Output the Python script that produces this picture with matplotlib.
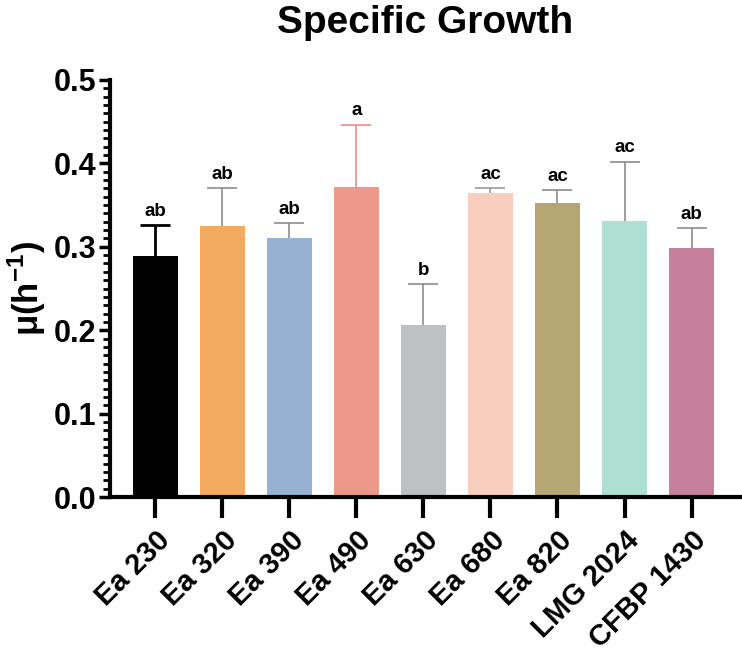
import numpy as np
import matplotlib
matplotlib.use('Agg')
import matplotlib.pyplot as plt
from matplotlib.ticker import MultipleLocator
#-------------------------------------------------------------------------------
strains = ['Ea 230', 'Ea 320', 'Ea 390', 'Ea 490', 'Ea 630',
           'Ea 680', 'Ea 820', 'LMG 2024', 'CFBP 1430']
mu      = [0.289, 0.325, 0.310, 0.372, 0.206, 0.364, 0.352, 0.331, 0.299]
err     = [0.037, 0.045, 0.018, 0.074, 0.049, 0.006, 0.016, 0.071, 0.023]
letters = ['ab', 'ab', 'ab', 'a', 'b', 'ac', 'ac', 'ac', 'ab']
colors  = ['#000000', '#F5AB5F', '#97B1D3', '#EE978B', '#BEC1C3',
           '#F9CEBF', '#B7A574', '#AEDFD3', '#C5809D']
ecolors = ['#000000', '#8C8C8C', '#8C8C8C', '#E99083', '#8C8C8C',
           '#9A9A9A', '#8C8C8C', '#8C8C8C', '#8C8C8C']
#-------------------------------------------------------------------------------
plt.rcParams['font.family'] = ['Liberation Sans', 'DejaVu Sans']
plt.rcParams['font.weight'] = 'bold'
plt.rcParams['mathtext.fontset'] = 'custom'
plt.rcParams['mathtext.rm'] = 'Liberation Sans:bold'
plt.rcParams['mathtext.bf'] = 'Liberation Sans:bold'

fig = plt.figure(figsize=(7.42, 6.55), dpi=100)
ax = fig.add_axes([0.148, 0.241, 0.849, 0.637])

x = np.arange(len(strains))
ax.bar(x, mu, width=0.67, color=colors, zorder=2)
for i in range(len(x)):
    lw = 2 if i == 0 else 1.2
    eb = ax.errorbar(x[i], mu[i], yerr=[[0], [err[i]]], fmt='none',
                     ecolor=ecolors[i], elinewidth=lw, capsize=11,
                     capthick=lw, zorder=3)
    eb[1][0].set_visible(False)   # no lower cap
    ax.annotate(letters[i], (x[i], mu[i] + err[i]), xytext=(0, 4),
                textcoords='offset points', ha='center', va='bottom',
                fontsize=13.5, fontweight='bold')
#-------------------------------------------------------------------------------
ax.set_xlim(-0.68, 8.72)
ax.set_ylim(0, 0.5)
ax.yaxis.set_major_locator(MultipleLocator(0.1))
ax.yaxis.set_minor_locator(MultipleLocator(0.01))
ax.set_yticks([0.0, 0.1, 0.2, 0.3, 0.4, 0.5])
ax.set_yticklabels(['0.0', '0.1', '0.2', '0.3', '0.4', '0.5'])
ax.set_xticks(x)
ax.set_xticklabels(strains, rotation=45, ha='right', va='top',
                   rotation_mode='anchor')

for s in ['top', 'right']:
    ax.spines[s].set_visible(False)
for s in ['left', 'bottom']:
    ax.spines[s].set_linewidth(3)

ax.tick_params(axis='y', which='major', length=8, width=2.5, labelsize=22, pad=2)
ax.tick_params(axis='y', which='minor', length=5, width=2)
ax.tick_params(axis='x', which='major', length=15, width=3, labelsize=21, pad=6)
for lab in ax.get_xticklabels() + ax.get_yticklabels():
    lab.set_fontweight('bold')

ax.set_ylabel('μ(h$^{-1}$)', fontsize=25, fontweight='bold', labelpad=4)
ax.set_title('Specific Growth', fontsize=28, fontweight='bold', pad=34)
#-------------------------------------------------------------------------------
fig.savefig('out.png', dpi=100)
